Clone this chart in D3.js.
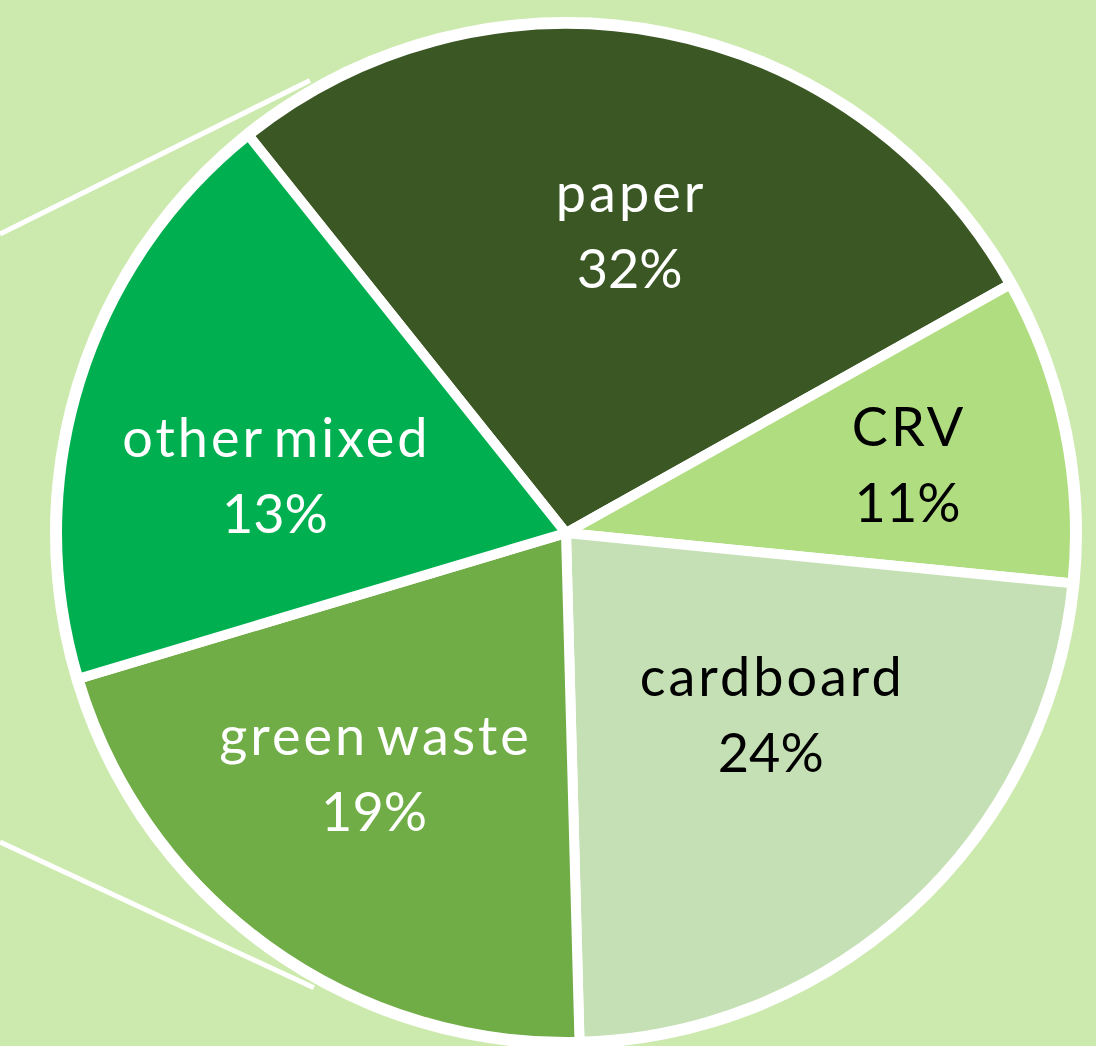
<!DOCTYPE html>
<html>
<head>
<meta charset="utf-8">
<script src="https://cdn.jsdelivr.net/npm/d3@7"></script>
<style>
  html, body { margin: 0; padding: 0; background: #cce9ae; overflow: hidden; }
  svg { display: block; }
</style>
</head>
<body>
<svg id="chart" width="1096" height="1046"></svg>
<script>
// ---- data ----
const categories = ["paper", "CRV", "cardboard", "green waste", "other mixed"];
// slice sizes as drawn (share of the circle)
const sliceShares = [27.6, 9.7, 23.0, 20.8, 18.9];
// percentage labels as printed on the chart
const percentLabels = ["32%", "11%", "24%", "19%", "13%"];
const sliceColors = ["#3a5724", "#b1dd81", "#c5e0b4", "#70ad47", "#00b050"];
const labelColors = ["#ffffff", "#000000", "#000000", "#ffffff", "#ffffff"];

// ---- layout ----
const W = 1096, H = 1046;
const cx = 566, cy = 533;
const R = 509;          // slice outer radius (stroke centred)
const ringR = 516;      // outer white ring
const startDeg = -38.6;
const labelR = 305;
const labelNudge = { "paper": [5, -2], "CRV": [43, -5], "cardboard": [-3, -40], "green waste": [-13, -5], "other mixed": [0, 35] };

const svg = d3.select("#chart");
svg.append("rect").attr("width", W).attr("height", H).attr("fill", "#cce9ae");

const g = svg.append("g").attr("transform", `translate(${cx},${cy})`);

// connector lines (pie-of-pie leader lines to the left)
const toRad = d => d * Math.PI / 180;
const connAngles = [330.5, 209];
const connYLeft = [234, 842];
connAngles.forEach((a, i) => {
  const x2 = Math.sin(toRad(a)) * 520, y2 = -Math.cos(toRad(a)) * 520;
  g.append("line")
    .attr("x1", -cx).attr("y1", connYLeft[i] - cy)
    .attr("x2", x2).attr("y2", y2)
    .attr("stroke", "#ffffff").attr("stroke-width", 5);
});

g.append("circle").attr("r", ringR).attr("fill", "#ffffff");

const pie = d3.pie().sort(null).value(d => d.v)
  .startAngle(toRad(startDeg)).endAngle(toRad(startDeg) + 2 * Math.PI);
const data = categories.map((c, i) => ({ c, v: sliceShares[i], p: percentLabels[i], col: sliceColors[i], lc: labelColors[i] }));
const arcs = pie(data);
const arc = d3.arc().innerRadius(0).outerRadius(R);
const labelArc = d3.arc().innerRadius(labelR).outerRadius(labelR);

g.selectAll("path.slice").data(arcs).enter().append("path")
  .attr("class", "slice")
  .attr("d", arc)
  .attr("fill", d => d.data.col)
  .attr("stroke", "#ffffff")
  .attr("stroke-width", 10)
  .attr("stroke-linejoin", "miter");

const lab = g.selectAll("text.lab").data(arcs).enter().append("text")
  .attr("class", "lab")
  .attr("transform", d => {
    const [x, y] = labelArc.centroid(d);
    const n = labelNudge[d.data.c];
    return `translate(${x + n[0]},${y + n[1]})`;
  })
  .attr("text-anchor", "middle")
  .attr("fill", d => d.data.lc)
  .style("font-family", "Lato, 'Open Sans', sans-serif")
  .style("font-size", "54px");
lab.append("tspan").attr("x", 1.5).attr("y", -20)
  .style("letter-spacing", "3px").style("word-spacing", "-7px")
  .text(d => d.data.c);
lab.append("tspan").attr("x", 0).attr("y", 56).text(d => d.data.p);
</script>
</body>
</html>
